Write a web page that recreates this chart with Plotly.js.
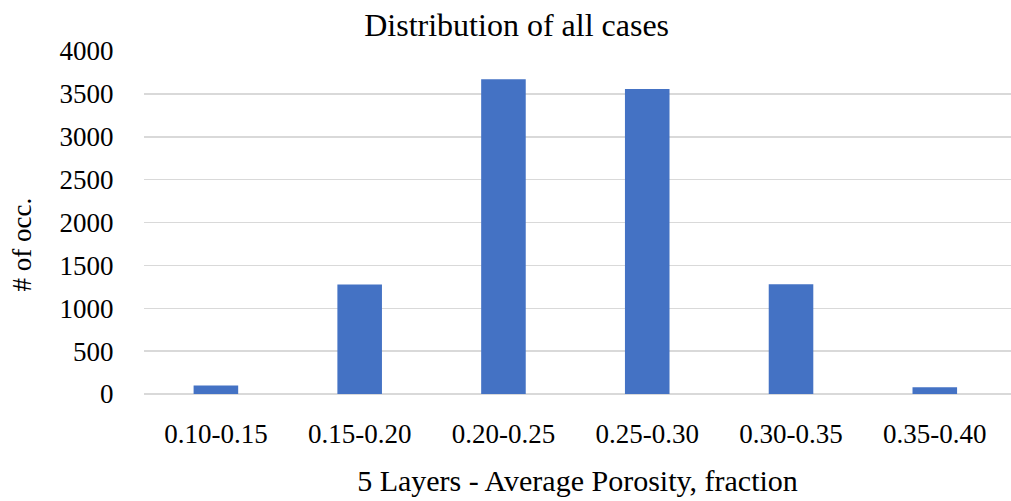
<!DOCTYPE html>
<html>
<head>
<meta charset="utf-8">
<script src="https://cdn.plot.ly/plotly-3.0.1.min.js"></script>
<style>
  html, body { margin: 0; padding: 0; background: #fff; }
  #chart { width: 1011px; height: 501px; }
</style>
</head>
<body>
<div id="chart"></div>
<script>
// Porosity bins and how many cases fall into each
const porosityBins = ["0.10-0.15", "0.15-0.20", "0.20-0.25", "0.25-0.30", "0.30-0.35", "0.35-0.40"];
const occurrences = [100, 1278, 3672, 3556, 1281, 80];
const yTicks = [0, 500, 1000, 1500, 2000, 2500, 3000, 3500, 4000];

const serif = "'Liberation Serif', 'Times New Roman', serif";

const trace = {
  type: "bar",
  x: porosityBins,
  y: occurrences,
  marker: { color: "#4472C4" },
  hoverinfo: "x+y"
};

const layout = {
  width: 1011,
  height: 501,
  margin: { l: 144, r: 0, t: 51, b: 107 },
  paper_bgcolor: "#fff",
  plot_bgcolor: "#fff",
  bargap: 0.69,
  showlegend: false,
  font: { family: serif, color: "#000" },
  title: {
    text: "Distribution of all cases",
    font: { family: serif, size: 32, color: "#000" },
    x: 0.511, xanchor: "center",
    y: 0.95, yanchor: "middle"
  },
  xaxis: {
    type: "category",
    range: [-0.5, 5.53],
    showgrid: false,
    zeroline: false,
    showline: false,
    ticks: "outside",
    ticklen: 16,
    tickcolor: "rgba(0,0,0,0)",
    tickfont: { family: serif, size: 27, color: "#000" },
    title: {
      text: "5 Layers - Average Porosity, fraction",
      font: { family: serif, size: 30, color: "#000" },
      standoff: 21
    }
  },
  yaxis: {
    range: [0, 4000],
    tickvals: yTicks,
    ticktext: yTicks.map(String),
    showgrid: true,
    gridcolor: "#D9D9D9",
    gridwidth: 1.5,
    zeroline: true,
    zerolinecolor: "#D9D9D9",
    zerolinewidth: 1.5,
    showline: false,
    ticks: "outside",
    ticklen: 24,
    tickcolor: "rgba(0,0,0,0)",
    tickfont: { family: serif, size: 27, color: "#000" }
  },
  annotations: [{
    text: "# of occ.",
    textangle: -90,
    xref: "paper", yref: "paper",
    x: (22 - 144) / 867, y: (394 - 244.5) / 343,
    xanchor: "center", yanchor: "middle",
    showarrow: false,
    font: { family: serif, size: 27, color: "#000" }
  }]
};

Plotly.newPlot("chart", [trace], layout, { displayModeBar: false, staticPlot: true });
</script>
</body>
</html>
